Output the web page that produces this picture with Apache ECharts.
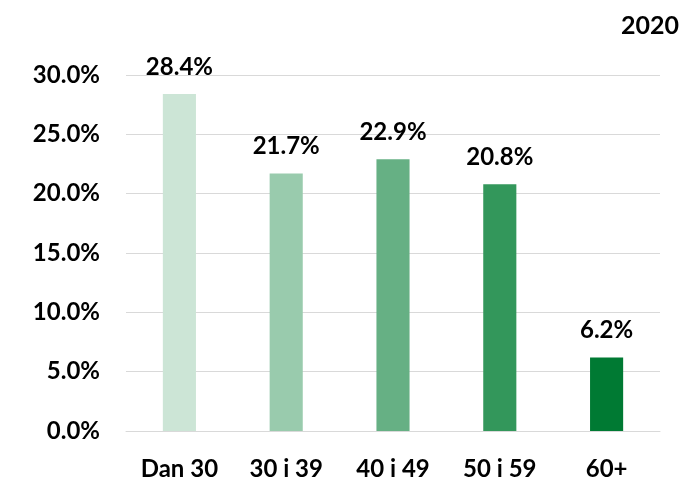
<!DOCTYPE html>
<html>
<head>
<meta charset="utf-8">
<script src="https://cdn.jsdelivr.net/npm/echarts@6/dist/echarts.min.js"></script>
<style>
  html, body { margin: 0; padding: 0; background: #fff; }
  #chart { width: 688px; height: 481px; }
</style>
</head>
<body>
<div id="chart"></div>
<script>
const categories = ['Dan 30', '30 i 39', '40 i 49', '50 i 59', '60+']
const shares = [28.4, 21.7, 22.9, 20.8, 6.2]
const barColors = ['#CCE5D6', '#99CBAD', '#66B084', '#33975B', '#007A33']
const yearLabel = '2020'

const font = 'Lato, "Liberation Sans", sans-serif'

let chart = echarts.init(document.getElementById('chart'))
chart.setOption({
    animation: false,
    title: {
        text: yearLabel,
        right: 4,
        top: 8,
        textStyle: { fontFamily: font, fontWeight: 'bold', fontSize: 25, color: '#000' }
    },
    grid: { left: 126, right: 28, top: 75, bottom: 50 },
    xAxis: {
        type: 'category',
        data: categories,
        axisLine: { show: true, lineStyle: { color: '#D9D9D9', width: 1 } },
        axisTick: { show: false },
        axisLabel: {
            margin: 26,
            fontFamily: font, fontWeight: 'bold', fontSize: 24, color: '#000'
        }
    },
    yAxis: {
        type: 'value',
        min: 0,
        max: 30,
        interval: 5,
        axisLine: { show: false },
        axisTick: { show: false },
        splitLine: { lineStyle: { color: '#D9D9D9', width: 1 } },
        axisLabel: {
            margin: 26,
            formatter: v => v.toFixed(1) + '%',
            fontFamily: font, fontWeight: 'bold', fontSize: 24, color: '#000'
        }
    },
    series: [{
        type: 'bar',
        barWidth: '31%',
        data: shares.map((v, i) => ({ value: v, itemStyle: { color: barColors[i] } })),
        label: {
            show: true,
            position: 'top',
            distance: 15,
            formatter: p => p.value.toFixed(1) + '%',
            fontFamily: font, fontWeight: 'bold', fontSize: 24, color: '#000'
        }
    }]
})
</script>
</body>
</html>
